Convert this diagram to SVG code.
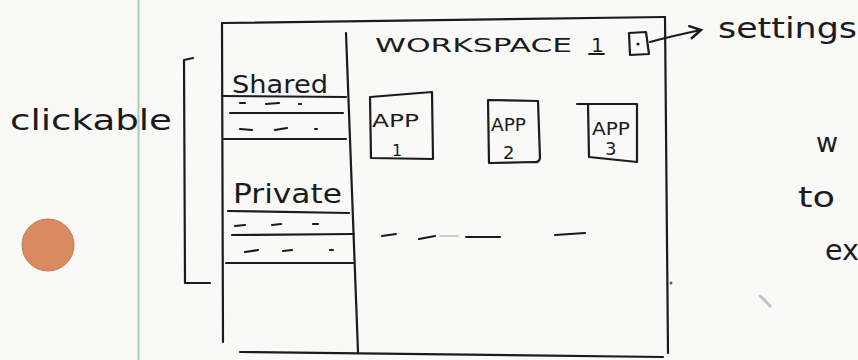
<svg xmlns="http://www.w3.org/2000/svg" width="858" height="360" viewBox="0 0 858 360">
  <defs>
    <style>
      .ink { fill: none; stroke: #1b1b1d; stroke-width: 2.2; stroke-linecap: round; stroke-linejoin: round; }
      .thin { fill: none; stroke: #1b1b1d; stroke-width: 1.8; stroke-linecap: round; }
      .hand { font-family: "DejaVu Sans", "Liberation Sans", sans-serif; fill: #1b1b1d; }
    </style>
    <marker id="arrow" viewBox="0 0 10 10" refX="8" refY="5" markerWidth="7" markerHeight="7" orient="auto">
      <path d="M1,1 L8,5 L1,9" fill="none" stroke="#1b1b1d" stroke-width="1.6" stroke-linecap="round"/>
    </marker>
  </defs>

  <!-- paper -->
  <rect x="0" y="0" width="858" height="360" fill="#f9f9f8"/>
  <line x1="138.5" y1="0" x2="138.5" y2="360" stroke="#a9c9bd" stroke-width="2"/>
  <circle cx="48" cy="245" r="26" fill="#d98a60" stroke="#c9784f" stroke-width="1"/>
  <path d="M760,296 Q765,300 770,306" stroke="#c4c4c8" stroke-width="3" fill="none" stroke-linecap="round"/>
  <circle cx="671" cy="283" r="1.5" fill="#6a5a78"/>

  <!-- annotation: clickable -->
  <g id="clickable-label">
    <text class="hand" x="10" y="130" font-size="29" textLength="162" lengthAdjust="spacingAndGlyphs">clickable</text>
  </g>

  <!-- workspace outer frame -->
  <g id="workspace">
    <path class="ink" d="M222,23 L665,17"/>
    <path class="ink" d="M222,23 L223,342"/>
    <path class="ink" d="M665,17 L668,353"/>
    <path class="ink" d="M240,352 L663,357"/>
    <text class="hand" x="375" y="52" font-size="20" textLength="197" lengthAdjust="spacingAndGlyphs">WORKSPACE</text>
    <text class="hand" x="591" y="52" font-size="20">1</text>
    <path class="thin" d="M589,54 L604,54"/>
    <!-- placeholder dashes -->
    <path class="ink" d="M382,236 L396,234"/>
    <path class="ink" d="M419,239 L435,236"/>
    <path class="thin" d="M440,236 L458,236" stroke-opacity="0.2"/>
    <path class="ink" d="M466,237 L500,237"/>
    <path class="ink" d="M555,235 L585,233"/>
  </g>

  <!-- sidebar -->
  <g id="sidebar">
    <path class="ink" d="M346,33 L358,352"/>
    <text class="hand" x="232" y="93" font-size="24" textLength="96" lengthAdjust="spacingAndGlyphs">Shared</text>
    <path class="ink" d="M222,96 L346,97"/>
    <path class="ink" d="M240,103 L245,103 M266,104 L279,103 M299,104 L301,104"/>
    <path class="ink" d="M230,113 L343,113"/>
    <path class="ink" d="M240,129 L252,130 M275,130 L287,128 M315,129 L317,129"/>
    <path class="ink" d="M224,139 L346,139"/>
    <text class="hand" x="233" y="203" font-size="26" textLength="109" lengthAdjust="spacingAndGlyphs">Private</text>
    <path class="ink" d="M228,211 L349,213"/>
    <path class="ink" d="M235,226 L245,225 M272,225 L281,224 M313,224 L318,224"/>
    <path class="ink" d="M232,235 L354,234"/>
    <path class="ink" d="M245,252 L258,250 M283,251 L292,250 M330,250 L333,250"/>
    <path class="ink" d="M226,263 L353,263"/>
  </g>

  <!-- apps -->
  <g id="app1">
    <path class="ink" d="M370,97 L432,92 L433,159 L371,158 Z"/>
    <text class="hand" x="372" y="127" font-size="18" textLength="47" lengthAdjust="spacingAndGlyphs">APP</text>
    <text class="hand" x="392" y="156" font-size="16">1</text>
  </g>
  <g id="app2">
    <path class="ink" d="M488,100 L538,101 L540,158 Q539,163 534,162 L489,163 Z"/>
    <text class="hand" x="491" y="131" font-size="17" textLength="35" lengthAdjust="spacingAndGlyphs">APP</text>
    <text class="hand" x="503" y="159" font-size="18">2</text>
  </g>
  <g id="app3">
    <path class="ink" d="M577,104 L637,104 L637,162 L589,157 L588,104"/>
    <text class="hand" x="592" y="135" font-size="18" textLength="38" lengthAdjust="spacingAndGlyphs">APP</text>
    <text class="hand" x="605" y="155" font-size="18">3</text>
  </g>

  <!-- settings -->
  <g id="settings-icon">
    <path class="ink" d="M629,33 L646,32 L649,54 L630,55 Z"/>
    <circle cx="638" cy="44" r="1.6" fill="#1b1b1d"/>
  </g>
  <g id="settings-label">
    <text class="hand" x="718" y="38" font-size="29" textLength="139" lengthAdjust="spacingAndGlyphs">settings</text>
  </g>

  <!-- right side partial notes -->
  <g id="side-notes">
    <text class="hand" x="816" y="152" font-size="27">w</text>
    <text class="hand" x="798" y="207" font-size="28" textLength="37" lengthAdjust="spacingAndGlyphs">to</text>
    <text class="hand" x="825" y="260" font-size="28" textLength="34" lengthAdjust="spacingAndGlyphs">ex</text>
  </g>

  <!-- connectors -->
  <g id="connectors">
    <path class="ink" d="M650,42 Q672,36 701,30" marker-end="url(#arrow)"/>
    <path class="ink" d="M193,58 L184,60 L185,283 L210,283"/>
  </g>
</svg>
